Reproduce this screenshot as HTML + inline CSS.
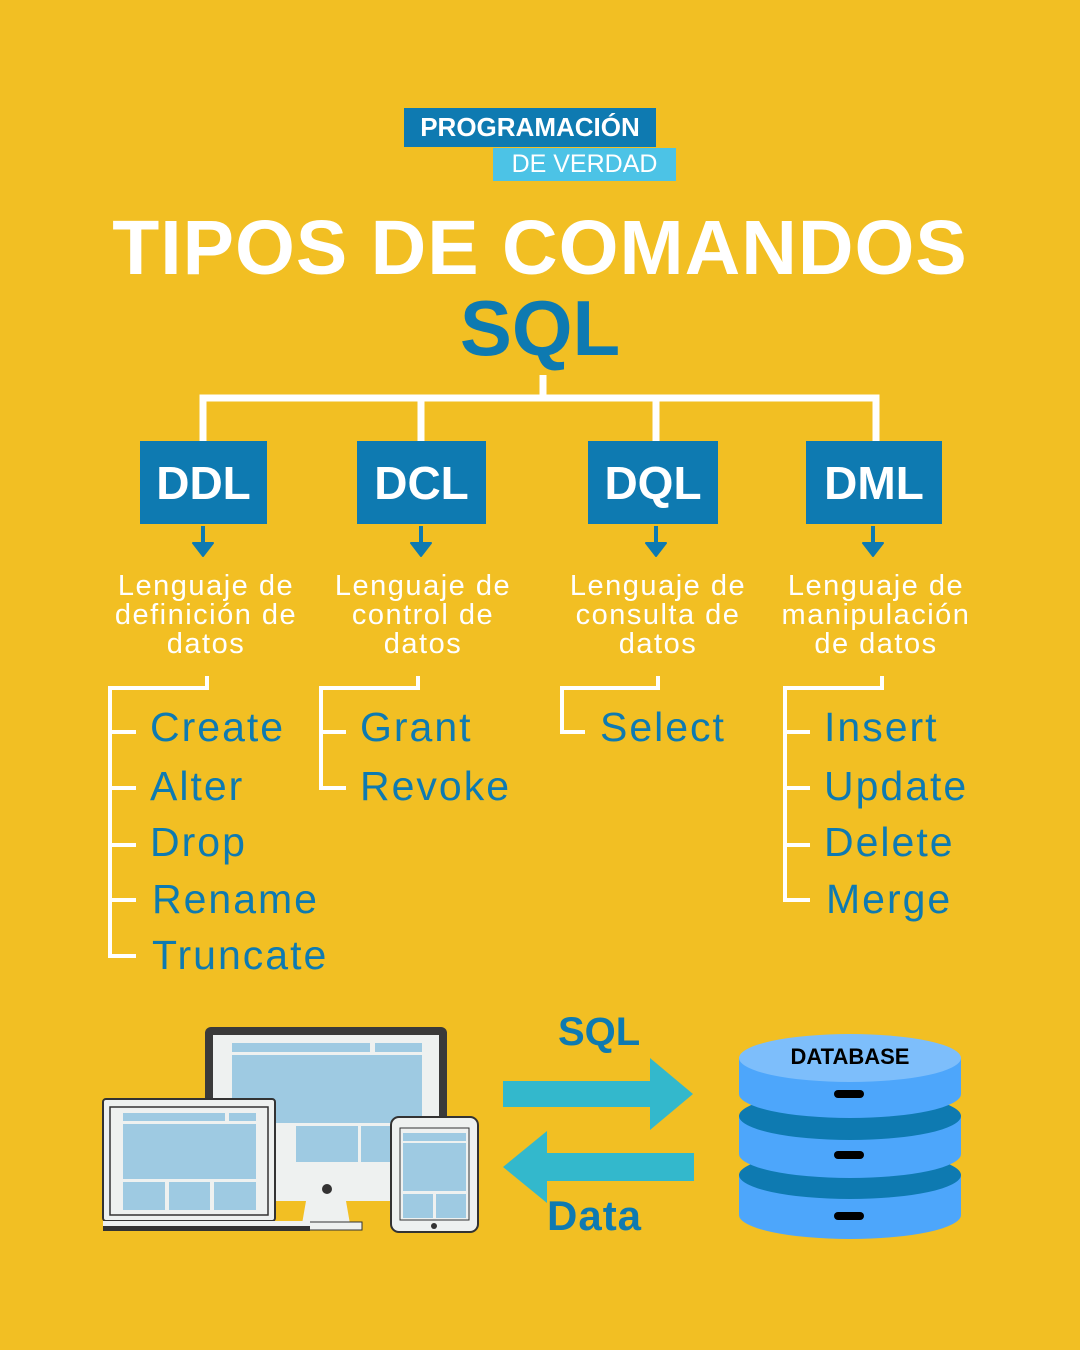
<!DOCTYPE html>
<html><head><meta charset="utf-8"><style>
body{margin:0}
#c{position:relative;width:1080px;height:1350px;background:#F2BF23;overflow:hidden;font-family:"Liberation Sans",sans-serif}
.t{position:absolute;white-space:nowrap}
.box{position:absolute;background:#0E7AB1;color:#fff;font-weight:bold;font-size:46px;display:flex;align-items:center;justify-content:center;top:441px;height:83px}
.d{position:absolute;color:#fff;font-size:29px;line-height:29px;text-align:center;width:240px;top:572px;letter-spacing:1.5px}
.i{position:absolute;color:#0E7AB1;font-size:41px;line-height:40px;white-space:nowrap;letter-spacing:2px}
</style></head><body><div id="c">
<div class="t" style="left:404px;top:108px;width:252px;height:39px;background:#0E7AB1;color:#fff;font-weight:bold;font-size:26px;line-height:39px;text-align:center">PROGRAMACIÓN</div>
<div class="t" style="left:493px;top:148px;width:183px;height:33px;background:#4CC3E6;color:#fff;font-size:25px;line-height:33px;text-align:center">DE VERDAD</div>
<div class="t" style="left:0;width:1080px;top:200px;text-align:center;color:#fff;font-weight:bold;font-size:77px;line-height:96px;letter-spacing:1px">TIPOS DE COMANDOS</div>
<div class="t" style="left:0;width:1080px;top:286px;text-align:center;color:#0E7AB1;font-weight:bold;font-size:78px;line-height:84px">SQL</div>
<svg width="1080" height="1350" style="position:absolute;left:0;top:0">
<g stroke="#fff" stroke-width="7" fill="none">
<path d="M543 375V398M203 441V398H876V441M421 398V441M656 398V441"/>
</g>
<g stroke="#fff" stroke-width="4" fill="none">
<path d="M207 676V688H110V956H136M110 732H136M110 788H136M110 845H136M110 900H136"/>
<path d="M418 676V688H321V788H346M321 732H346"/>
<path d="M658 676V688H562V732H585"/>
<path d="M882 676V688H785V900H810M785 732H810M785 788H810M785 845H810"/>
</g>
<g fill="#0E7AB1" stroke="#0E7AB1" stroke-width="4">
<path d="M203 526V547M421 526V547M656 526V547M873 526V547"/>
<path d="M193 543H213L203 556ZM411 543H431L421 556ZM646 543H666L656 556ZM863 543H883L873 556Z" stroke-width="2" stroke-linejoin="round"/>
</g>
<rect x="205" y="1027" width="242" height="150" rx="6" fill="#3a3a3a"/>
<rect x="213" y="1035" width="226" height="133" fill="#EEF1F0"/>
<rect x="232" y="1043" width="138" height="9" fill="#9ECAE2"/><rect x="375" y="1043" width="47" height="9" fill="#9ECAE2"/>
<rect x="232" y="1055" width="190" height="68" fill="#9ECAE2"/>
<rect x="296" y="1126" width="62" height="36" fill="#9ECAE2"/><rect x="361" y="1126" width="40" height="36" fill="#9ECAE2"/>
<rect x="213" y="1168" width="226" height="33" fill="#EEF1F0"/><circle cx="327" cy="1189" r="5" fill="#333"/>
<path d="M306 1201H346L350 1224H302Z" fill="#EEF1F0"/><rect x="290" y="1222" width="72" height="8" fill="#EEF1F0" stroke="#333" stroke-width="1"/>
<rect x="103" y="1099" width="172" height="122" rx="3" fill="#EEF1F0" stroke="#333" stroke-width="2"/>
<rect x="110" y="1107" width="158" height="108" fill="#EEF1F0" stroke="#333" stroke-width="1.5"/>
<rect x="123" y="1113" width="102" height="8" fill="#9ECAE2"/><rect x="229" y="1113" width="27" height="8" fill="#9ECAE2"/>
<rect x="123" y="1124" width="133" height="55" fill="#9ECAE2"/>
<rect x="123" y="1182" width="42" height="28" fill="#9ECAE2"/><rect x="169" y="1182" width="41" height="28" fill="#9ECAE2"/><rect x="214" y="1182" width="42" height="28" fill="#9ECAE2"/>
<rect x="103" y="1221" width="207" height="10" fill="#333"/><rect x="103" y="1221" width="207" height="5" fill="#EEF1F0"/>
<rect x="391" y="1117" width="87" height="115" rx="8" fill="#EEF1F0" stroke="#333" stroke-width="2"/>
<rect x="400" y="1128" width="69" height="92" fill="#EEF1F0" stroke="#333" stroke-width="1"/>
<rect x="403" y="1133" width="63" height="8" fill="#9ECAE2"/><rect x="403" y="1143" width="63" height="48" fill="#9ECAE2"/>
<rect x="403" y="1194" width="30" height="24" fill="#9ECAE2"/><rect x="436" y="1194" width="30" height="24" fill="#9ECAE2"/>
<circle cx="434" cy="1226" r="3" fill="#333"/>
<path d="M503 1081H650V1058L693 1094L650 1130V1107H503Z" fill="#33B8CC"/>
<path d="M694 1153H547V1131L503 1167L547 1203V1181H694Z" fill="#33B8CC"/>
<g>
<path d="M739 1175V1215A111 24 0 0 0 961 1215V1175Z" fill="#4DA6FB"/>
<ellipse cx="850" cy="1175" rx="111" ry="24" fill="#0E7AB1"/>
<path d="M739 1116V1154A111 24 0 0 0 961 1154V1116Z" fill="#4DA6FB"/>
<ellipse cx="850" cy="1116" rx="111" ry="24" fill="#0E7AB1"/>
<path d="M739 1058V1094A111 24 0 0 0 961 1094V1058Z" fill="#4DA6FB"/>
<ellipse cx="850" cy="1058" rx="111" ry="24" fill="#7DBEFB"/>
<rect x="834" y="1090" width="30" height="8" rx="4" fill="#000"/>
<rect x="834" y="1151" width="30" height="8" rx="4" fill="#000"/>
<rect x="834" y="1212" width="30" height="8" rx="4" fill="#000"/>
</g>
</svg>
<div class="t" style="left:740px;width:220px;text-align:center;top:1044px;font-weight:bold;font-size:22px;color:#000">DATABASE</div>
<div class="t" style="left:558px;top:1010px;font-weight:bold;font-size:40px;color:#0E7AB1">SQL</div>
<div class="t" style="left:547px;top:1192px;font-weight:bold;font-size:42px;color:#0E7AB1;letter-spacing:1px">Data</div>
<div class="box" style="left:140px;width:127px">DDL</div>
<div class="box" style="left:357px;width:129px">DCL</div>
<div class="box" style="left:588px;width:130px">DQL</div>
<div class="box" style="left:806px;width:136px">DML</div>
<div class="d" style="left:86px">Lenguaje de<br>definición de<br>datos</div>
<div class="d" style="left:303px">Lenguaje de<br>control de<br>datos</div>
<div class="d" style="left:538px">Lenguaje de<br>consulta de<br>datos</div>
<div class="d" style="left:756px">Lenguaje de<br>manipulación<br>de datos</div>
<div class="i" style="left:150px;top:707px">Create</div>
<div class="i" style="left:150px;top:766px">Alter</div>
<div class="i" style="left:150px;top:822px">Drop</div>
<div class="i" style="left:152px;top:879px">Rename</div>
<div class="i" style="left:152px;top:935px">Truncate</div>
<div class="i" style="left:360px;top:707px">Grant</div>
<div class="i" style="left:360px;top:766px">Revoke</div>
<div class="i" style="left:600px;top:707px">Select</div>
<div class="i" style="left:824px;top:707px">Insert</div>
<div class="i" style="left:824px;top:766px">Update</div>
<div class="i" style="left:824px;top:822px">Delete</div>
<div class="i" style="left:826px;top:879px">Merge</div>
</div></body></html>
